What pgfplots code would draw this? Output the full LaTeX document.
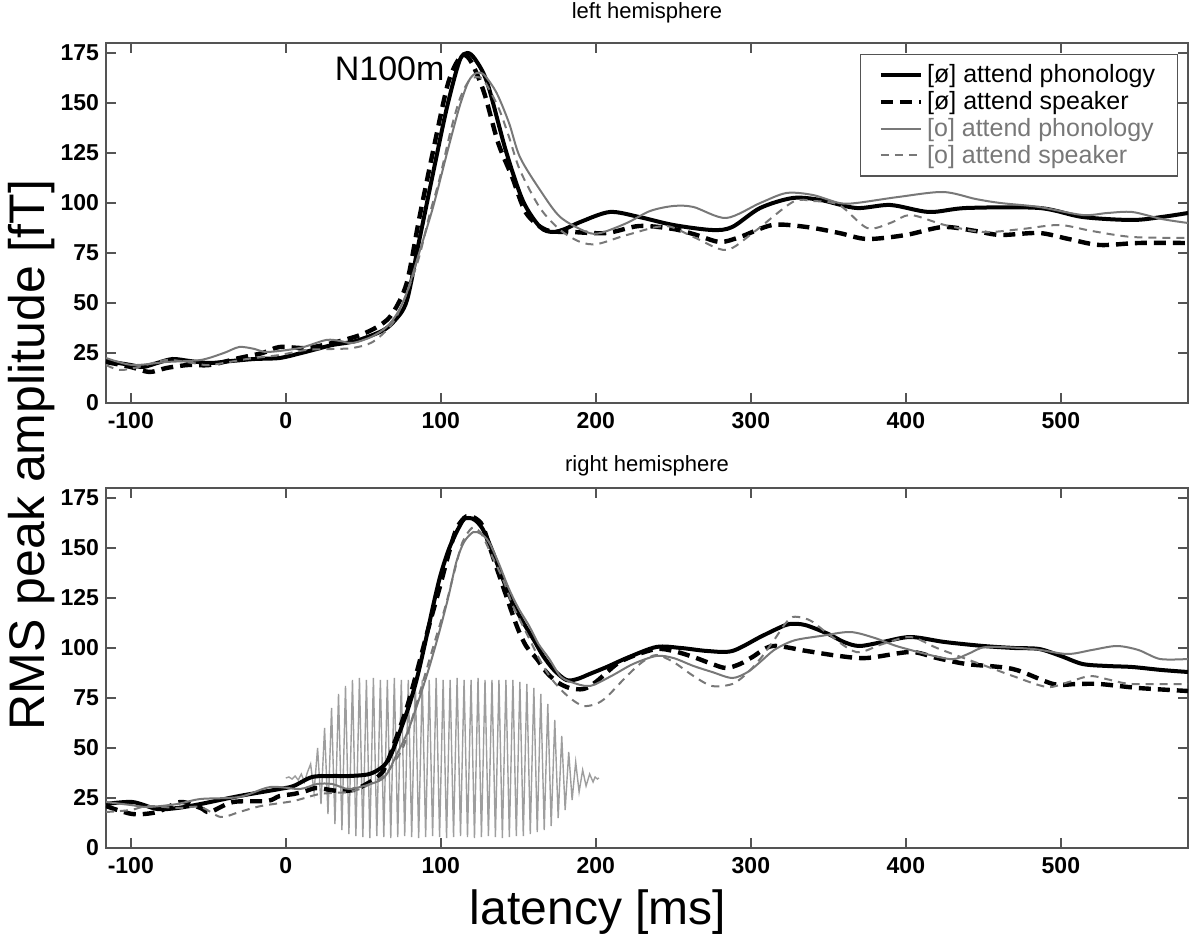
\documentclass[border=0pt]{standalone}
\usepackage{pgfplots}
\pgfplotsset{compat=1.18}
\usepackage{fontspec}
\setmainfont{Liberation Sans}
\definecolor{gline}{gray}{0.47}
\definecolor{stim}{gray}{0.62}
\definecolor{frame}{gray}{0.33}

% ---------- left hemisphere ----------
\pgfplotstableread{
x y
-116 21
-108 20
-100 19
-92 18
-83 20
-73 22
-62 21
-49 20
-35 21
-20 22
-4 22.5
10 25
20 27
30 29
45 31
62 36
70 41
78 51
86 81
95 115
104 148
112 171
117 175
122 172
130 160
142 126
153 101
164 88
172 85.5
180 87
190 90.5
209 95.5
228 93
250 89
275 86.5
288 88
306 97.5
327 102.5
345 101.5
368 97.5
390 99
415 95.5
439 97.5
486 97.5
514 93
546 91.5
565 93
582 95
}\LA
\pgfplotstableread{
x y
-116 20.5
-100 18
-88 15.5
-77 17.5
-63 19
-49 19
-30 22.5
-15 25
-4 28
13 27.5
30 30
48 34
61 39
69 45
78 60
86 92
95 126
104 158
110 170
115 174
120 170
128 155
137 130
146 113
155 95
168 86.5
185 85.5
207 85
228 88.5
250 87
265 84
280 80.5
293 83
314 89
336 88
357 85
375 82
400 84
424 88
445 86
461 84
486 85
505 82
525 79
550 80
582 80
}\LB
\pgfplotstableread{
x y
-116 22.5
-99 19
-77 20.5
-55 21.5
-40 25
-30 28
-20 27
-12 25.5
9 27.5
26 31.5
35 31
43 30
55 33
65 38
72 45
78 55
86 75
95 98
104 125
112 148
118 161
123 165
128 164
136 155
144 140
151 123
164 106.5
177 93
194 85.5
203 85
220 90
235 96
250 98.5
263 98
284 92.5
306 100
323 105
340 104
357 100
368 100
395 103
424 105.5
445 102
461 100
486 98
514 94
530 95
546 95.5
565 92
582 90
}\LC
\pgfplotstableread{
x y
-116 19
-107 16.5
-95 18
-77 21.5
-60 20
-49 19
-25 22
-4 24
13 26.5
30 27
43 27.5
56 30.5
69 40
78 55
86 73
93 95
99 111.5
106 135
112 151.5
118 161
123 163
128 161
137 148
144 133
151 116.5
164 97.5
177 86.5
190 80.5
201 79.5
220 84
245 88.5
263 83
284 76.5
302 85.5
327 100.5
340 101
357 99
375 87.5
390 90
403 94
425 89
450 85.5
475 87
499 89
520 86
546 83
582 82.5
}\LD

% ---------- right hemisphere ----------
\pgfplotstableread{
x y
-116 22
-99 23
-83 19.5
-70 20
-55 22
-30 26
-4 29.5
5 31
17 35.5
30 36
41 36
54 37
63 41
68 47
73.5 58
79 70
84.5 84.5
90 103
95 121
100 137
106 151
114 163.5
118 165
122 164
127 159.5
133 149
140 134.5
146 123
153 113
160 104
166 96
173 89
181 84
188 84.5
196 87
207 90.5
220 95
239 100.5
255 100
272 98.5
288 98.5
306 105.5
318 110
325 112
335 111.5
350 107
360 103
370 101
385 103
403 105.5
425 103
450 101
470 100
486 99.5
500 96
514 92
530 91
546 90.5
565 89
582 88
}\RA
\pgfplotstableread{
x y
-116 21
-99 17
-83 18
-68 23
-55 20
-49 18
-34 23
-12 23.5
-4 26
5 27
13 28.5
20 30
34 28.5
45.6 29.5
60 36
65 42
71 54.5
78 70
84.5 88
92 110
99 129.5
105 147
110 159.5
115 165
118 166
122 165
127 161
133 147
140 131
149 111
155 101
162 94.5
168 88
175 83
183 80
192 79.5
200 83
213.5 92
224 96
239 99.5
250 98.5
263 95.5
275 92
284 90
293 92
301 95.5
314 101
336 98.5
357 96
375 95
403 98
420 95
439 92
469 89.5
495 82
510 82
525 82
550 80
582 78.5
}\RB
\pgfplotstableread{
x y
-116 23
-100 21.5
-89 20.5
-70 22
-55 24.5
-30 25.5
-10 30.5
9 29.5
20 32
30 32
41.5 29.5
60 33.5
66 38
71 46
78 57
84.5 71
92 89
99 108
105 126
110 143
115 153
121 158
126 157
131 153
137 143
144 129.5
150 120
157 111
163 102
170 94.5
177 86
184 83
196 81
210 86
224 92
239 96
250 95
263 91
275 88
288 85
298 88
306 93
315 99
325 103
332 104.5
345 106
364 108
380 105
396 100.5
428 94.5
440 97
452 100.5
482 99.5
504 97
520 99
536 101
550 99
564 94.5
582 94.5
}\RC
\pgfplotstableread{
x y
-116 18
-100 19
-89 21
-70 20
-55 20.5
-42 15.5
-30 18
-16 21
5 23.5
22 27
41 28
48 29.5
63 36
70 43
76 51
82 66
89 84.5
96 103
103 121
109 139
114 153
120 160
124 159
127 156
133 146
140 134.5
146 122
153 111
160 100
166 91
172 84
179 78
185 74
192 71
200 72
207 75.5
220 86
230 93
239 96.5
250 93
263 86
275 81
288 82
297 87
306 94.5
315 104
322 112
327 115.5
334 115
340 113
350 107
368 98
385 102
403 105.5
420 100
439 94.5
455 90
469 86
491 80.5
505 83
519 86
532 84
546 82
582 82
}\RD

% ---------- stimulus waveform ----------
\pgfplotstableread{
x y
0 35
2 35.5
4 34.5
6 36
8 34
10 37
12 33
14 38
16 42
18.2 28
20.5 50
22.7 22
25 60
27.2 17
29.5 70
31.7 12
34 77
36.2 9
38.5 81
40.7 7
43 84
45.2 6
47.5 85
49.7 5.5
52 84
54.2 5
56.5 85
58.7 6
61 84
63.2 5.5
65.5 84
67.7 5
70 85
72.2 5.5
74.5 84
76.7 6
79 84
81.2 5.5
83.5 85
85.7 5
88 84
90.2 5.5
92.5 84
94.7 6
97 85
99.2 5.5
101.5 84
103.7 5
106 84
108.2 5.5
110.5 85
112.7 6
115 84
117.2 5.5
119.5 84
121.7 5
124 85
126.2 5.5
128.5 84
130.7 6
133 84
135.2 5.5
137.5 84
139.7 5
142 84
144.2 5.5
146.5 84
148.7 6
151 83
153.2 6
155.5 82
157.7 7
160 80
162.2 8
164.5 77
166.7 9
169 72
171.2 11
173.5 64
175.7 15
178 56
180.2 19
182.5 48
184.7 24
187 43
189.2 28
191.5 39
193.7 31
196 37
198.2 33
199.5 35.5
201 34.5
202 35
}\STIM

\pgfplotsset{
  panel/.style={
    scale only axis, width=541pt, height=180pt,
    xmin=-116, xmax=582, ymin=0, ymax=180,
    xtick={-100,0,100,200,300,400,500},
    ytick={0,25,50,75,100,125,150,175},
    xtick pos=both, ytick pos=both,
    tick align=inside, major tick length=5pt,
    axis line style={frame, line width=0.9pt},
    tick style={frame, line width=0.8pt},
    ticklabel style={font=\fontsize{11.5}{13}\selectfont\bfseries},
    /pgf/number format/assume math mode=true,
    /pgf/number format/1000 sep={},
    xticklabel style={yshift=-1pt},
  },
  blk/.style={black, line width=2pt, smooth, tension=0.5},
  blkd/.style={black, line width=2.2pt, smooth, tension=0.5, dash pattern=on 6pt off 3.5pt},
  gry/.style={gline, line width=1pt, smooth, tension=0.5},
  gryd/.style={gline, line width=1pt, smooth, tension=0.5, dash pattern=on 4pt off 3pt},
}

\begin{document}
\begin{tikzpicture}
\useasboundingbox (0,0) rectangle (600pt,472pt);

\begin{axis}[panel, name=top, at={(53pt,450.5pt)}, anchor=north west,
  legend cell align=left,
  legend style={at={(0.697,0.969)}, anchor=north west, draw=frame, line width=0.6pt,
    font=\fontsize{12.5}{13.5}\selectfont, row sep=-1.2pt, inner xsep=9pt, inner ysep=3pt},
  legend image code/.code={\draw[#1] (0pt,0pt) -- (20pt,0pt);},
]
\addplot[blk] table {\LA};
\addlegendentry{[ø] attend phonology}
\addplot[blkd] table {\LB};
\addlegendentry{[ø] attend speaker}
\addplot[gry] table {\LC};
\addlegendentry{\textcolor{gline}{[o] attend phonology}}
\addplot[gryd] table {\LD};
\addlegendentry{\textcolor{gline}{[o] attend speaker}}
\node[font=\fontsize{17}{20}\selectfont] at (axis cs:67,167) {N100m};
\end{axis}

\begin{axis}[panel, name=bot, at={(53pt,228pt)}, anchor=north west]
\addplot[stim, line width=0.7pt, forget plot] table {\STIM};
\addplot[blk] table {\RA};
\addplot[blkd] table {\RB};
\addplot[gry] table {\RC};
\addplot[gryd] table {\RD};
\end{axis}

\node[anchor=base, yshift=12pt, font=\fontsize{11}{13}\selectfont] at (top.north) {left hemisphere};
\node[anchor=base, yshift=8.5pt, font=\fontsize{11}{13}\selectfont] at (bot.north) {right hemisphere};
\node[rotate=90, font=\fontsize{25}{30}\selectfont] at (16pt,244.5pt) {RMS peak amplitude [fT]};
\node[font=\fontsize{24}{28}\selectfont] at (299pt,16pt) {latency [ms]};
\end{tikzpicture}
\end{document}
